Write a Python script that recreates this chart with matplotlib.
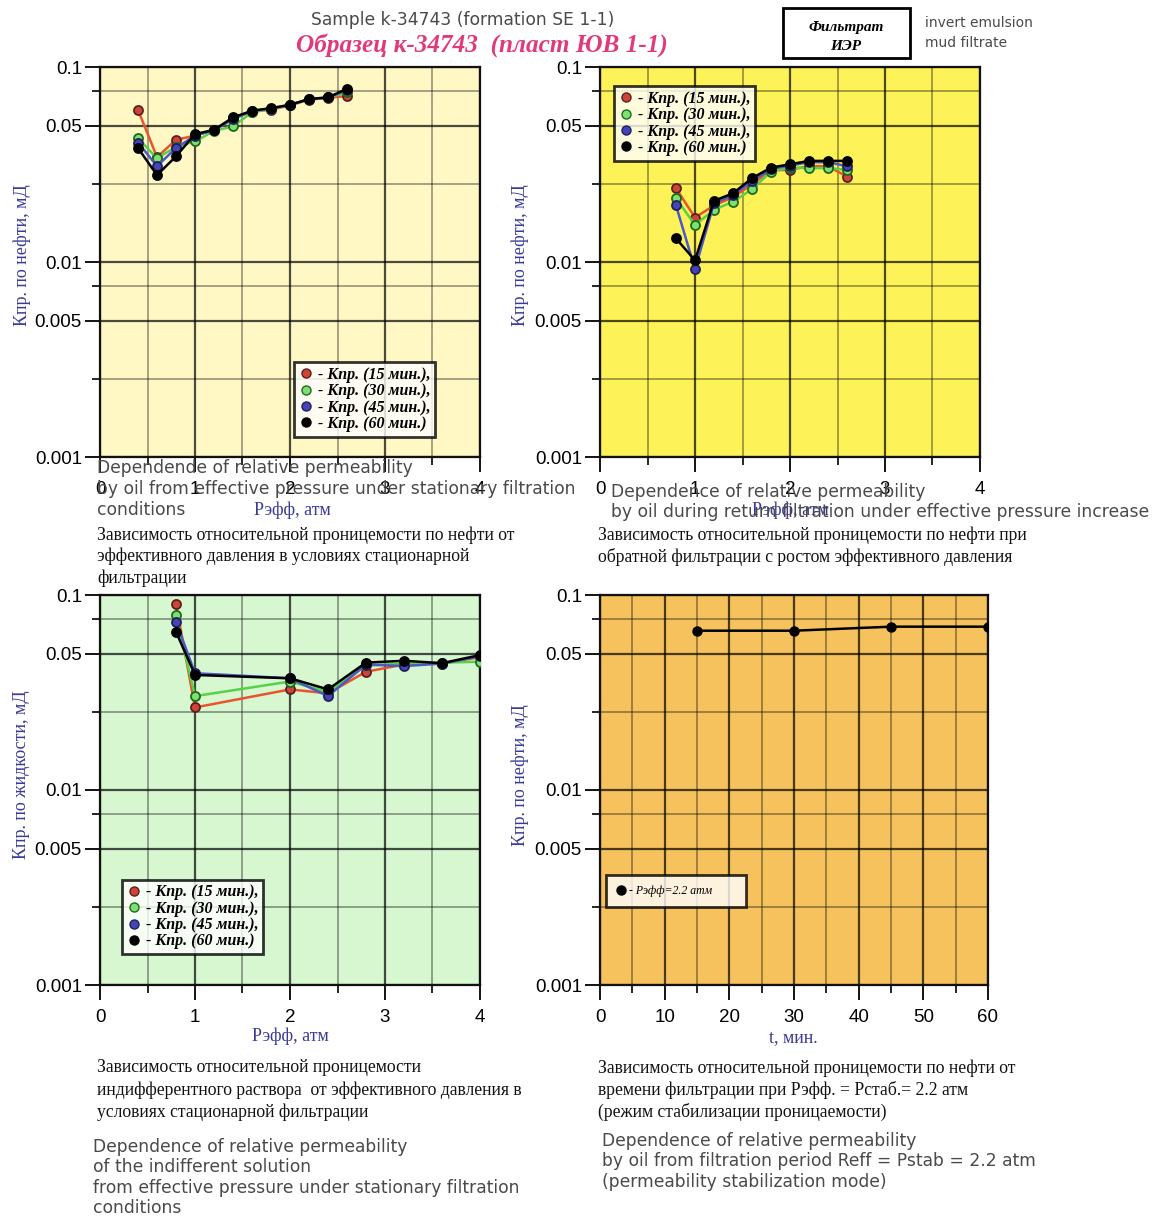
import matplotlib
matplotlib.use("Agg")
import matplotlib.pyplot as plt
from matplotlib.ticker import FixedLocator, NullFormatter, FixedFormatter
from matplotlib.lines import Line2D
from matplotlib.patches import Rectangle

# ---- data -------------------------------------------------------------
# stationary filtration, oil permeability vs effective pressure
p_stat = [0.4, 0.6, 0.8, 1.0, 1.2, 1.4, 1.6, 1.8, 2.0, 2.2, 2.4, 2.6]
stat_k15 = [0.0603, 0.0345, 0.0423, 0.0445, 0.0476, 0.0545, 0.0590, 0.0605, 0.0635, 0.0680, 0.0695, 0.0710]
stat_k30 = [0.0432, 0.0340, 0.0390, 0.0415, 0.0470, 0.0496, 0.0585, 0.0610, 0.0638, 0.0683, 0.0698, 0.0740]
stat_k45 = [0.0410, 0.0310, 0.0384, 0.0445, 0.0474, 0.0540, 0.0595, 0.0612, 0.0640, 0.0685, 0.0698, 0.0760]
stat_k60 = [0.0384, 0.0279, 0.0348, 0.0453, 0.0476, 0.0551, 0.0597, 0.0615, 0.0640, 0.0685, 0.0698, 0.0774]

# return filtration with growing effective pressure
p_ret = [0.8, 1.0, 1.2, 1.4, 1.6, 1.8, 2.0, 2.2, 2.4, 2.6]
ret_k15 = [0.0239, 0.0169, 0.0195, 0.0215, 0.0250, 0.0295, 0.0297, 0.0310, 0.0310, 0.0274]
ret_k30 = [0.0212, 0.0155, 0.0185, 0.0204, 0.0236, 0.0291, 0.0305, 0.0303, 0.0303, 0.0297]
ret_k45 = [0.0195, 0.0092, 0.0200, 0.0220, 0.0260, 0.0300, 0.0312, 0.0325, 0.0325, 0.0310]
ret_k60 = [0.0132, 0.0102, 0.0206, 0.0225, 0.0269, 0.0305, 0.0317, 0.0330, 0.0330, 0.0330]

# indifferent solution, liquid permeability vs effective pressure
p_ind = [0.8, 1.0, 2.0, 2.4, 2.8, 3.2, 3.6, 4.0]
ind_k15 = [0.0899, 0.0265, 0.0328, 0.0313, 0.0404, 0.0440, 0.0445, 0.0480]
ind_k30 = [0.0790, 0.0303, 0.0360, 0.0318, 0.0435, 0.0445, 0.0450, 0.0455]
ind_k45 = [0.0730, 0.0397, 0.0374, 0.0303, 0.0440, 0.0432, 0.0445, 0.0485]
ind_k60 = [0.0648, 0.0389, 0.0374, 0.0328, 0.0450, 0.0460, 0.0447, 0.0492]

# stabilization mode, permeability vs time at Peff = 2.2 atm
t_min = [15, 30, 45, 60]
stab_k = [0.0656, 0.0656, 0.0688, 0.0688]

series_labels = ["- Кпр. (15 мин.),", "- Кпр. (30 мин.),", "- Кпр. (45 мин.),", "- Кпр. (60 мин.)"]
y_major = [0.001, 0.005, 0.01, 0.05, 0.1]
y_major_labels = ["0.001", "0.005", "0.01", "0.05", "0.1"]
y_minor = [0.0025, 0.0075, 0.025, 0.075]

# ---- styles -----------------------------------------------------------
W, H = 1163, 1219
LINE_C = ["#e8552c", "#58d048", "#4a58c8", "#000000"]
FACE_C = ["#d04436", "#7ee070", "#4444b8", "#000000"]
EDGE_C = ["#5a2020", "#1d6a1d", "#20205a", "#000000"]
LABEL_BLUE = "#3a3a98"
GRAY = "#4a4a4a"
SERIF = "Liberation Serif"
SANS = "Liberation Sans"

fig = plt.figure(figsize=(W / 100, H / 100), dpi=100)
fig.patch.set_facecolor("white")


def px_axes(x0, y0, x1, y1):
    return fig.add_axes([x0 / W, 1 - y1 / H, (x1 - x0) / W, (y1 - y0) / H])


def ftext(x, y, s, **kw):
    fig.text(x / W, 1 - y / H, s, **kw)


def style_axes(ax, bg, xmax, xmaj, xmin):
    ax.set_facecolor(bg)
    ax.set_yscale("log")
    ax.set_ylim(0.001, 0.1)
    ax.set_xlim(0, xmax)
    ax.yaxis.set_major_locator(FixedLocator(y_major))
    ax.yaxis.set_major_formatter(FixedFormatter(y_major_labels))
    ax.yaxis.set_minor_locator(FixedLocator(y_minor))
    ax.yaxis.set_minor_formatter(NullFormatter())
    ax.xaxis.set_major_locator(FixedLocator(xmaj))
    ax.xaxis.set_minor_locator(FixedLocator(xmin))
    ax.xaxis.set_minor_formatter(NullFormatter())
    ax.grid(which="major", color="#000000", alpha=0.7, lw=1.6)
    ax.grid(which="minor", color="#000000", alpha=0.38, lw=1.3)
    ax.set_axisbelow(True)
    ax.tick_params(which="major", direction="out", length=11, width=1.3,
                   labelsize=13.5, pad=2)
    ax.tick_params(which="minor", direction="out", length=5.5, width=1.2)
    ax.tick_params(axis="x", which="major", pad=6)
    for lab in ax.get_xticklabels() + ax.get_yticklabels():
        lab.set_family(SANS)
    for sp in ax.spines.values():
        sp.set_linewidth(1.6)
        sp.set_color("#111111")


def plot_four(ax, x, ks):
    for i, k in enumerate(ks):
        ax.plot(x, k, color=LINE_C[i], lw=1.8, marker="o", ms=6.5,
                mfc=FACE_C[i], mec=EDGE_C[i], mew=1.3, zorder=3 + i)


def four_legend(ax, loc, anchor):
    handles = [Line2D([], [], ls="none", marker="o", ms=6.5, mfc=FACE_C[i],
                      mec=EDGE_C[i], mew=1.0) for i in range(4)]
    leg = ax.legend(handles, series_labels, loc=loc, bbox_to_anchor=anchor,
                    prop={"family": SERIF, "style": "italic", "weight": "bold", "size": 11.5},
                    frameon=True, fancybox=False, handlelength=0.9,
                    handletextpad=0.3, labelspacing=0.02, borderpad=0.3,
                    borderaxespad=0.0)
    leg.get_frame().set_edgecolor("black")
    leg.get_frame().set_linewidth(2.0)
    leg.get_frame().set_facecolor("white")
    leg.set_zorder(20)


xmaj4 = [0, 1, 2, 3, 4]
xmin4 = [0.5, 1.5, 2.5, 3.5]

# top left: stationary filtration
ax1 = px_axes(100, 67, 480, 457)
style_axes(ax1, "#fff8c4", 4, xmaj4, xmin4)
plot_four(ax1, p_stat, [stat_k15, stat_k30, stat_k45, stat_k60])
four_legend(ax1, "lower left", (0.51, 0.052))

# top right: return filtration
ax2 = px_axes(600, 67, 980, 457)
style_axes(ax2, "#fdf258", 4, xmaj4, xmin4)
plot_four(ax2, p_ret, [ret_k15, ret_k30, ret_k45, ret_k60])
four_legend(ax2, "upper left", (0.037, 0.951))

# bottom left: indifferent solution
ax3 = px_axes(100, 595, 480, 985)
style_axes(ax3, "#d6f7d0", 4, xmaj4, xmin4)
plot_four(ax3, p_ind, [ind_k15, ind_k30, ind_k45, ind_k60])
four_legend(ax3, "upper left", (0.058, 0.27))

# bottom right: stabilization in time
ax4 = px_axes(600, 595, 988, 985)
style_axes(ax4, "#f6c25e", 60, [0, 10, 20, 30, 40, 50, 60], [5, 15, 25, 35, 45, 55])
ax4.plot(t_min, stab_k, color="black", lw=1.8, marker="o", ms=6.5, zorder=4)
leg4 = ax4.legend([Line2D([], [], ls="none", marker="o", ms=6.5, color="black")],
                  ["- Рэфф=2.2 атм        "], loc="upper left",
                  bbox_to_anchor=(0.015, 0.283),
                  prop={"family": SERIF, "style": "italic", "size": 8.5},
                  frameon=True, fancybox=False, handlelength=0.8, handletextpad=0.3,
                  borderpad=0.85, borderaxespad=0.0)
leg4.get_frame().set_edgecolor("black")
leg4.get_frame().set_linewidth(2.0)
leg4.get_frame().set_facecolor("white")

# ---- axis titles ------------------------------------------------------
ylab_kw = dict(rotation=90, ha="center", va="center", color=LABEL_BLUE,
               family=SERIF, fontsize=13)
ftext(22, 255, "Кпр. по нефти, мД", **ylab_kw)
ftext(520, 255, "Кпр. по нефти, мД", **ylab_kw)
ftext(22, 775, "Кпр. по жидкости, мД", **ylab_kw)
ftext(520, 775, "Кпр. по нефти, мД", **ylab_kw)

xlab_kw = dict(ha="center", va="center", color=LABEL_BLUE, family=SERIF, fontsize=13)
ftext(292, 510, "Рэфф, атм", **xlab_kw)
ftext(790, 510, "Рэфф, атм", **xlab_kw)
ftext(290, 1036, "Рэфф, атм", **xlab_kw)
ftext(793, 1038, "t, мин.", **xlab_kw)

# ---- header -----------------------------------------------------------
ftext(463, 20, "Sample k-34743 (formation SE 1-1)", ha="center", va="center",
      color=GRAY, family="DejaVu Sans", fontsize=12.3)
ftext(482, 45, "Образец к-34743  (пласт ЮВ 1-1)", ha="center", va="center",
      color="#e03a7c", family=SERIF, style="italic", weight="bold", fontsize=18.2)
fig.patches.append(Rectangle((783 / W, 1 - 58 / H), 127 / W, 50 / H, fill=False,
                             lw=2.0, ec="black", transform=fig.transFigure))
ftext(846, 27, "Фильтрат", ha="center", va="center", family=SERIF,
      style="italic", weight="bold", fontsize=11)
ftext(846, 47, "ИЭР", ha="center", va="center", family=SERIF,
      style="italic", weight="bold", fontsize=11)
ftext(925, 23, "invert emulsion", ha="left", va="center", color=GRAY,
      family="DejaVu Sans", fontsize=10)
ftext(925, 43, "mud filtrate", ha="left", va="center", color=GRAY,
      family="DejaVu Sans", fontsize=10)

# ---- captions ---------------------------------------------------------
en_kw = dict(ha="left", va="center", color=GRAY, family="DejaVu Sans", fontsize=12.3)
ru_kw = dict(ha="left", va="center", color="#111111", family=SERIF, fontsize=12.7)


def lines(x, y0, step, rows, kw):
    for i, r in enumerate(rows):
        ftext(x, y0 + i * step, r, **kw)


lines(97, 468, 21, ["Dependende of relative permeability",
                    "by oil from effective pressure under stationary filtration",
                    "conditions"], en_kw)
lines(97, 535, 21.5, ["Зависимость относительной проницемости по нефти от",
                      "эффективного давления в условиях стационарной",
                      "фильтрации"], ru_kw)

lines(611, 492, 20, ["Dependence of relative permeability",
                     "by oil during return filtration under effective pressure increase"], en_kw)
lines(598, 535, 21.5, ["Зависимость относительной проницемости по нефти при",
                       "обратной фильтрации с ростом эффективного давления"], ru_kw)

lines(97, 1068, 22, ["Зависимость относительной проницемости",
                     "индифферентного раствора  от эффективного давления в",
                     "условиях стационарной фильтрации"], ru_kw)
lines(93, 1147, 20.3, ["Dependence of relative permeability",
                       "of the indifferent solution",
                       "from effective pressure under stationary filtration",
                       "conditions"], en_kw)

lines(598, 1068, 22, ["Зависимость относительной проницемости по нефти от",
                      "времени фильтрации при Рэфф. = Рстаб.= 2.2 атм",
                      "(режим стабилизации проницаемости)"], ru_kw)
lines(602, 1141, 20.5, ["Dependence of relative permeability",
                        "by oil from filtration period Reff = Pstab = 2.2 atm",
                        "(permeability stabilization mode)"], en_kw)

fig.savefig("out.png", dpi=100)
